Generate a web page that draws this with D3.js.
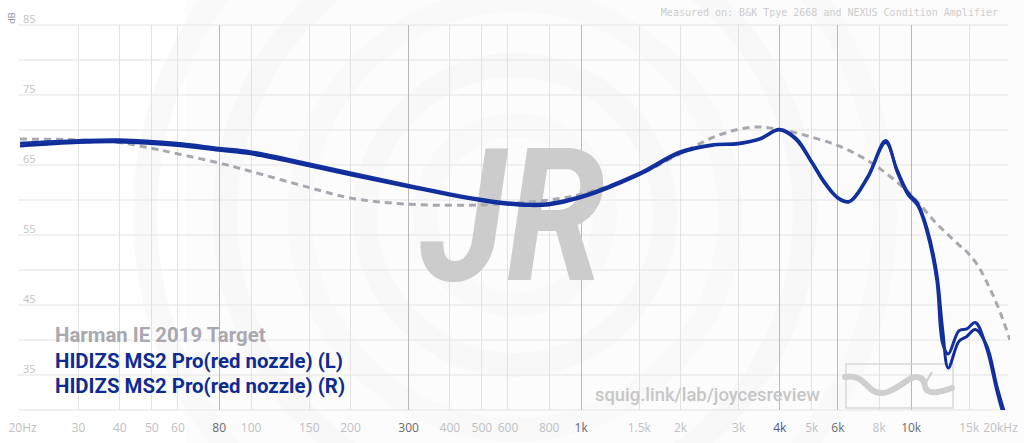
<!DOCTYPE html>
<html lang="en">
<head>
<meta charset="utf-8">
<script src="https://d3js.org/d3.v7.min.js"></script>
<style>
  body { margin: 0; background: #fff; }
  svg { display: block; }
  .xlab { font-family: "Open Sans", sans-serif; font-size: 12px; }
  .ylab { font-family: "Open Sans", sans-serif; font-size: 11px; fill: #c2c2c2; }
</style>
</head>
<body>
<div id="chart"></div>
<script>
// tick labels
var xTicks = [20, 30, 40, 50, 60, 80, 100, 150, 200, 300, 400, 500, 600, 800, 1000, 1500, 2000, 3000, 4000, 5000, 6000, 8000, 10000, 15000, 20000];
var xTickText = ["20Hz", "30", "40", "50", "60", "80", "100", "150", "200", "300", "400", "500", "600", "800", "1k", "1.5k", "2k", "3k", "4k", "5k", "6k", "8k", "10k", "15k", "20kHz"];
var xStrong = [80, 300, 1000, 4000, 6000, 10000];
var yTicks = [85, 75, 65, 55, 45, 35];
var yGrid = [85, 80, 75, 70, 65, 60, 55, 50, 45, 40, 35, 30];

// Harman IE 2019 target
var targetFreq = [20, 30, 40, 50, 60, 80, 100, 150, 200, 300, 500, 800, 1000, 1500, 2000, 2600, 3300, 4000, 5000, 6000, 7000, 8000, 10000, 12000, 14000, 15000, 16000, 17000, 18000, 19000, 20000];
var targetDb = [68.7, 68.6, 68.2, 67.4, 66.6, 65.3, 64.1, 61.8, 60.3, 59.4, 59.3, 60.0, 60.8, 63.6, 66.6, 69.2, 70.4, 70.1, 69.0, 67.8, 66.3, 64.6, 60.8, 56.6, 53.6, 52.3, 50.6, 48.3, 45.8, 43.0, 40.0];

// HIDIZS MS2 Pro (red nozzle)
var iemFreq = [20, 30, 40, 60, 80, 100, 150, 200, 300, 400, 500, 600, 700, 800, 1000, 1500, 2000, 2500, 3000, 3500, 4000, 4500, 5000, 5500, 6000, 6500, 7400, 8400, 9100, 9800, 10500, 11200, 12000, 12500, 13000, 14000, 14800, 15700, 17000, 18300, 20000];
var leftDb = [68.1, 68.5, 68.6, 68.1, 67.4, 66.9, 65.2, 63.9, 62.1, 60.9, 60.1, 59.6, 59.4, 59.5, 60.5, 63.8, 66.9, 67.9, 68.1, 68.8, 70.1, 68.8, 65.6, 62.5, 60.4, 59.8, 63.3, 68.5, 64.0, 60.8, 59.2, 55.5, 48.5, 39.5, 38.0, 41.3, 41.6, 42.5, 38.8, 32.5, 26.0];
var rightDb = [67.7, 68.2, 68.3, 67.8, 67.1, 66.6, 64.9, 63.6, 61.9, 60.7, 59.9, 59.4, 59.2, 59.3, 60.3, 63.6, 66.7, 67.8, 68.0, 68.7, 70.0, 68.6, 65.4, 62.3, 60.3, 59.7, 63.1, 68.2, 64.3, 61.1, 59.5, 56.0, 49.5, 41.5, 36.0, 39.8, 40.5, 41.5, 39.2, 33.2, 27.0];

var legendNames = ["Harman IE 2019 Target", "HIDIZS MS2 Pro(red nozzle) (L)", "HIDIZS MS2 Pro(red nozzle) (R)"];

var width = 1024, height = 443;
var x = d3.scaleLog().domain([20, 20000]).range([20, 1010]);
var y = d3.scaleLinear().domain([30, 85]).range([410, 25]);

var svg = d3.select('#chart').append('svg')
  .attr('width', width)
  .attr('height', height);

// faint background rings behind the logo
var bg = svg.append('g');
bg.append('rect').attr('x', 185).attr('y', 0).attr('width', 839).attr('height', 443).attr('fill', '#fcfcfc');
[90, 150, 215, 290, 370].forEach(function (r, i) {
  bg.append('circle')
    .attr('cx', 515).attr('cy', 215).attr('r', r)
    .attr('fill', 'none')
    .attr('stroke', i % 2 ? '#f8f8f8' : '#f9f9f9')
    .attr('stroke-width', 24);
});

// grid
svg.append('g').selectAll('line')
  .data(yGrid).enter().append('line')
  .attr('x1', 18).attr('x2', 1008)
  .attr('y1', function (d) { return y(d); })
  .attr('y2', function (d) { return y(d); })
  .attr('stroke', '#ececec')
  .attr('stroke-width', 1.5);

svg.append('g').selectAll('line')
  .data(xTicks.slice(1, -1)).enter().append('line')
  .attr('x1', function (d) { return Math.round(x(d)) + 0.5; })
  .attr('x2', function (d) { return Math.round(x(d)) + 0.5; })
  .attr('y1', 25).attr('y2', 410)
  .attr('stroke', function (d) { return xStrong.indexOf(d) >= 0 ? '#b8b8bc' : '#e2e2e2'; })
  .attr('stroke-width', 1);

// JR watermark
svg.append('text')
  .attr('x', 420).attr('y', 280)
  .attr('textLength', 185).attr('lengthAdjust', 'spacingAndGlyphs')
  .style('font-family', 'Roboto, sans-serif')
  .style('font-weight', 'bold')
  .style('font-style', 'italic')
  .style('font-size', '186px')
  .attr('fill', '#cccccc')
  .text('JR');

// squig.link watermark + logo
svg.append('text')
  .attr('x', 595).attr('y', 401)
  .style('font-family', 'Roboto, sans-serif')
  .style('font-weight', '500')
  .style('font-size', '18.4px')
  .attr('fill', '#c6c6c6')
  .text('squig.link/lab/joycesreview');

svg.append('rect')
  .attr('x', 846).attr('y', 364).attr('width', 107).attr('height', 44)
  .attr('fill', 'none').attr('stroke', '#d0d0d0').attr('stroke-width', 1.2);
svg.append('path')
  .attr('d', 'M845,377 C858,374 864,383 872,390 C882,397 892,391 905,382 C915,374 924,376 925,386 C926,394 936,394 952,388')
  .attr('fill', 'none').attr('stroke', '#cfcfcf').attr('stroke-width', 6).attr('stroke-linecap', 'round');
svg.append('path')
  .attr('d', 'M925,384 L932,372')
  .attr('fill', 'none').attr('stroke', '#cfcfcf').attr('stroke-width', 2);

// top note
svg.append('text')
  .attr('x', 998).attr('y', 16)
  .attr('text-anchor', 'end')
  .style('font-family', '"DejaVu Sans Mono", monospace')
  .style('font-size', '10px')
  .attr('fill', '#cdcdcd')
  .text('Measured on: B&K Tpye 2668 and NEXUS Condition Amplifier');

// axes labels
svg.append('g').selectAll('text')
  .data(yTicks).enter().append('text')
  .attr('class', 'ylab')
  .attr('x', 23)
  .attr('y', function (d) { return y(d) - 2; })
  .text(function (d) { return d; });

svg.append('text')
  .attr('transform', 'translate(15,18) rotate(-90)')
  .attr('text-anchor', 'middle')
  .style('font-family', '"Open Sans", sans-serif')
  .style('font-size', '9px')
  .attr('fill', '#8a8a95')
  .text('dB');

var xAxis = d3.axisBottom(x)
  .tickValues(xTicks)
  .tickSize(0)
  .tickFormat(function (d, i) { return xTickText[i]; });

var gx = svg.append('g').attr('transform', 'translate(0,418)').call(xAxis);
gx.select('.domain').remove();
gx.selectAll('text')
  .attr('class', 'xlab')
  .attr('dy', '0.9em')
  .attr('fill', function (d) {
    if (d === 4000) return '#4c5590';
    return xStrong.indexOf(d) >= 0 ? '#6a6a70' : '#c0c0c4';
  })
  .attr('transform', function (d) { return d === 20 ? 'translate(2,0)' : (d === 20000 ? 'translate(-10,0)' : null); });

// curves
svg.append('clipPath').attr('id', 'plot')
  .append('rect').attr('x', 20).attr('y', 25).attr('width', 990).attr('height', 385);

var line = d3.line()
  .x(function (d) { return x(d[0]); })
  .y(function (d) { return y(d[1]); })
  .curve(d3.curveCatmullRom.alpha(0.5));

var curves = svg.append('g').attr('clip-path', 'url(#plot)');

curves.append('path')
  .attr('d', line(d3.zip(targetFreq, targetDb)))
  .attr('fill', 'none')
  .attr('stroke', '#a9a7b0')
  .attr('stroke-width', 3)
  .attr('stroke-dasharray', '7,5');

curves.append('path')
  .attr('d', line(d3.zip(iemFreq, rightDb)))
  .attr('fill', 'none')
  .attr('stroke', '#0f2b9a')
  .attr('stroke-width', 3);

curves.append('path')
  .attr('d', line(d3.zip(iemFreq, leftDb)))
  .attr('fill', 'none')
  .attr('stroke', '#12309e')
  .attr('stroke-width', 3);

// legend
svg.append('g').selectAll('text')
  .data(legendNames).enter().append('text')
  .attr('x', 55)
  .attr('y', function (d, i) { return 342 + i * 25.5; })
  .style('font-family', 'Roboto, sans-serif')
  .style('font-weight', 'bold')
  .style('font-size', '20.4px')
  .attr('fill', function (d, i) { return i === 0 ? '#a9a8ae' : '#0e2b92'; })
  .text(function (d) { return d; });
</script>
</body>
</html>
